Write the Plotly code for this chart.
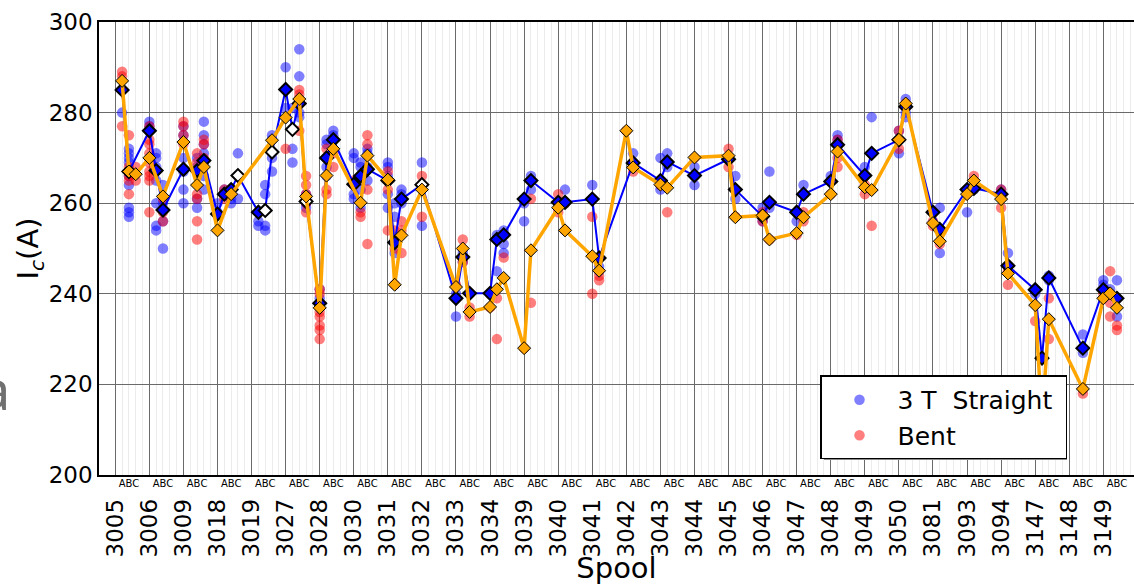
import plotly.graph_objects as go

spools = ["3005", "3006", "3009", "3018", "3019", "3027", "3028", "3030", "3031", "3032",
          "3033", "3034", "3039", "3040", "3041", "3042", "3043", "3044", "3045", "3046",
          "3047", "3048", "3049", "3050", "3081", "3093", "3094", "3147", "3148", "3149"]
seg_labels = ["A", "B", "C"]

# 3 T straight: mean values (spool, segment index, Ic)
straight_spool = ["3005", "3005", "3006", "3006", "3006", "3009", "3009", "3009", "3018", "3018",
                  "3018", "3018", "3019", "3019", "3019", "3027", "3027", "3027", "3027", "3028",
                  "3028", "3028", "3030", "3030", "3030", "3031", "3031", "3031", "3032", "3033",
                  "3033", "3033", "3034", "3034", "3034", "3039", "3039", "3040", "3040", "3041",
                  "3041", "3042", "3043", "3043", "3044", "3045", "3045", "3046", "3046", "3047",
                  "3047", "3048", "3048", "3049", "3049", "3050", "3050", "3081", "3081", "3093",
                  "3093", "3094", "3094", "3147", "3147", "3147", "3148", "3149", "3149"]
straight_seg = [1, 2, 0, 1, 2, 0, 2, 3, 0, 1,
                2, 3, 1, 2, 3, 0, 1, 2, 3, 0,
                1, 2, 0, 1, 2, 0, 1, 2, 0, 0,
                1, 2, 0, 1, 2, 0, 1, 0, 1, 0,
                1, 1, 0, 1, 0, 0, 1, 0, 1, 0,
                1, 0, 1, 0, 1, 0, 1, 0, 1, 0,
                1, 0, 1, 0, 1, 2, 2, 0, 2]
straight_ic = [285.0, 267.0, 276.0, 267.2, 258.5, 267.5, 267.2, 269.4, 257.6, 262.0,
               263.0, 266.1, 258.0, 258.4, 271.3, 285.1, 276.3, 282.0, 260.4, 237.9,
               270.0, 274.0, 264.2, 266.0, 267.5, 265.0, 251.3, 260.9, 264.1, 239.0,
               248.1, 240.1, 240.1, 252.0, 253.0, 260.9, 265.0, 260.2, 260.2, 260.9,
               247.9, 268.9, 265.0, 269.1, 266.1, 269.7, 263.0, 257.1, 260.2, 258.0,
               262.0, 264.8, 272.9, 266.1, 271.0, 274.0, 281.3, 258.0, 254.2, 263.0,
               263.3, 262.0, 246.2, 240.9, 225.8, 243.5, 228.0, 240.9, 239.0]
straight_hollow = [0, 0, 0, 0, 0, 0, 0, 0, 0, 0,
                   0, 1, 0, 1, 1, 0, 1, 0, 1, 0,
                   0, 0, 0, 0, 0, 0, 0, 0, 1, 0,
                   0, 0, 0, 0, 0, 0, 0, 0, 0, 0,
                   0, 0, 0, 0, 0, 0, 0, 0, 0, 0,
                   0, 0, 0, 0, 0, 0, 0, 0, 0, 0,
                   0, 0, 0, 0, 0, 0, 0, 0, 0]

# Bent: mean values
bent_spool = ["3005", "3005", "3005", "3006", "3006", "3009", "3009", "3009", "3018", "3018",
              "3019", "3027", "3027", "3027", "3028", "3028", "3028", "3030", "3030", "3031",
              "3031", "3031", "3032", "3033", "3033", "3033", "3034", "3034", "3034", "3039",
              "3039", "3040", "3040", "3041", "3041", "3042", "3042", "3043", "3043", "3044",
              "3045", "3045", "3046", "3046", "3047", "3047", "3048", "3048", "3049", "3049",
              "3050", "3050", "3081", "3081", "3093", "3093", "3094", "3094", "3147", "3147",
              "3147", "3148", "3149", "3149", "3149"]
bent_seg = [1, 2, 3, 0, 2, 0, 2, 3, 0, 2,
            3, 0, 2, 3, 0, 1, 2, 1, 2, 0,
            1, 2, 0, 0, 1, 2, 0, 1, 2, 0,
            1, 0, 1, 0, 1, 0, 1, 0, 1, 0,
            0, 1, 0, 1, 0, 1, 0, 1, 0, 1,
            0, 1, 0, 1, 0, 1, 0, 1, 0, 1,
            2, 2, 0, 1, 2]
bent_ic = [287.0, 267.0, 266.4, 270.0, 261.5, 273.5, 264.0, 268.0, 254.0, 262.0,
           273.9, 278.9, 283.0, 261.5, 236.9, 266.1, 272.0, 260.1, 270.5, 265.2,
           242.0, 252.9, 263.0, 241.5, 250.0, 236.0, 237.1, 241.0, 243.5, 228.0,
           249.6, 259.0, 254.0, 248.3, 245.1, 276.0, 267.9, 264.1, 263.4, 270.1,
           270.5, 256.9, 257.3, 252.0, 253.4, 256.9, 262.0, 271.4, 263.5, 262.9,
           274.0, 282.0, 255.6, 251.6, 262.0, 265.0, 260.9, 244.5, 237.5, 212.0,
           234.4, 219.0, 239.0, 240.1, 236.9]

# Individual measurements (spool, segment index, list of Ic)
straight_dot_spool = ["3005", "3005", "3006", "3006", "3006", "3009", "3009", "3009", "3018", "3018",
                      "3018", "3018", "3019", "3019", "3019", "3027", "3027", "3027", "3027", "3028",
                      "3028", "3028", "3030", "3030", "3030", "3031", "3031", "3031", "3032", "3033",
                      "3033", "3033", "3034", "3034", "3034", "3039", "3039", "3040", "3040", "3041",
                      "3041", "3042", "3043", "3043", "3044", "3045", "3045", "3046", "3046", "3047",
                      "3047", "3048", "3048", "3049", "3049", "3050", "3050", "3081", "3081", "3093",
                      "3093", "3094", "3094", "3147", "3147", "3147", "3148", "3149", "3149", "3149"]
straight_dot_seg = [1, 2, 0, 1, 2, 0, 2, 3, 0, 1,
                    2, 3, 1, 2, 3, 0, 1, 2, 3, 0,
                    1, 2, 0, 1, 2, 0, 1, 2, 0, 0,
                    1, 2, 0, 1, 2, 0, 1, 0, 1, 0,
                    1, 1, 0, 1, 0, 0, 1, 0, 1, 0,
                    1, 0, 1, 0, 1, 0, 1, 0, 1, 0,
                    1, 0, 1, 0, 1, 2, 2, 0, 1, 2]
straight_dot_ic = [[280], [272, 271, 270, 269, 266, 264, 259, 258, 257], [278, 277],
                   [271, 270, 268, 265, 260, 255, 254], [264, 260, 256, 250],
                   [277, 275, 270, 267, 263, 260], [270, 268, 261, 259],
                   [278, 275, 273, 271, 269, 266, 263], [260, 258], [263, 262],
                   [261, 260], [271, 261], [256, 255], [264, 262, 255, 254], [275, 274, 270, 267],
                   [290, 281], [281, 272, 269], [294, 288, 280, 279], [262, 261, 260, 259], [241, 239],
                   [274, 273, 270, 268, 266], [276, 275, 274], [271, 270, 262, 261],
                   [269, 268, 266, 265, 263, 259], [272, 271, 268, 265], [269, 268, 266, 262, 259],
                   [260, 257, 249], [263, 262, 260], [269, 255], [235, 240],
                   [249, 247], [240], [240], [253, 252, 245], [254, 251, 249],
                   [260, 256], [266, 263], [260, 259], [263, 260], [264, 261],
                   [246, 245], [271, 269], [270, 264, 263], [271, 268], [268, 266, 264],
                   [270], [266, 261], [259, 256], [267, 260, 259], [258, 256],
                   [264, 262], [266, 265], [275, 274], [268, 266], [279, 271],
                   [276, 271], [283, 280, 279], [258], [259, 254, 249], [263, 258],
                   [264, 263], [263, 262], [249, 246], [241, 240], [226],
                   [244, 243], [231, 228, 227], [243, 242, 241], [241, 240], [243, 239, 235]]

bent_dot_spool = ["3005", "3005", "3005", "3006", "3006", "3009", "3009", "3009", "3018", "3027",
                  "3027", "3027", "3028", "3028", "3028", "3030", "3030", "3030", "3031", "3031",
                  "3031", "3032", "3033", "3033", "3033", "3034", "3034", "3034", "3039", "3039",
                  "3040", "3040", "3041", "3041", "3042", "3042", "3043", "3043", "3044", "3045",
                  "3045", "3046", "3046", "3047", "3047", "3048", "3048", "3049", "3049", "3050",
                  "3050", "3081", "3081", "3093", "3093", "3094", "3094", "3147", "3147", "3148",
                  "3149", "3149", "3149"]
bent_dot_seg = [1, 2, 3, 0, 2, 0, 2, 3, 1, 0,
                2, 3, 0, 1, 2, 0, 1, 2, 0, 1,
                2, 0, 0, 1, 2, 0, 1, 2, 0, 1,
                0, 1, 0, 1, 0, 1, 0, 1, 0, 0,
                1, 0, 1, 0, 1, 0, 1, 0, 1, 0,
                1, 0, 1, 0, 1, 0, 1, 0, 2, 2,
                0, 1, 2]
bent_dot_ic = [[289, 288, 277], [275, 268, 266, 265, 262], [268, 265],
               [277, 276, 274, 273, 271, 269, 267, 266, 265, 258], [261, 258, 256],
               [278, 277, 275, 273], [271, 269, 262, 261, 256, 252], [274, 273, 270],
               [263, 262, 261], [272],
               [285, 284, 283, 276], [266, 264, 262, 260, 258], [241, 240, 236, 235, 233, 232, 230],
               [272, 270, 263, 262], [271, 268], [265, 264], [258, 257], [275, 273, 263, 251],
               [267, 263, 254], [254, 252, 250, 242],
               [256, 254, 249], [266, 257], [242], [252, 247], [237, 235],
               [237], [239, 230], [248], [228], [261, 238],
               [262, 258], [260, 254], [257, 240], [244, 243], [276],
               [267], [264], [258], [270], [272, 268],
               [257], [258, 256], [252], [253], [258, 256],
               [262], [274, 270, 268], [264, 262], [255], [276, 272],
               [282], [256, 255], [251], [262], [266],
               [263, 259], [245, 242], [234], [239, 230], [219, 218],
               [240], [245, 238, 235], [233, 232]]

FONT = "DejaVu Sans"


def xpos(spool, seg):
    return 5 * spools.index(spool) + seg


def expand(sp_list, seg_list, val_lists):
    xs, ys = [], []
    for s, k, vals in zip(sp_list, seg_list, val_lists):
        for v in vals:
            xs.append(xpos(s, k))
            ys.append(v)
    return xs, ys


sx, sy = expand(straight_dot_spool, straight_dot_seg, straight_dot_ic)
bx, by = expand(bent_dot_spool, bent_dot_seg, bent_dot_ic)

fig = go.Figure()
fig.add_trace(go.Scatter(x=sx, y=sy, mode="markers", name="3 T\u00a0\u00a0Straight\u00a0",
                         marker=dict(color="#0000ff", size=10.5, opacity=0.5, line=dict(width=0))))
fig.add_trace(go.Scatter(x=bx, y=by, mode="markers", name="Bent",
                         marker=dict(color="#ff0000", size=10.5, opacity=0.5, line=dict(width=0))))
fig.add_trace(go.Scatter(
    x=[xpos(s, k) for s, k in zip(straight_spool, straight_seg)], y=straight_ic,
    mode="lines+markers", showlegend=False,
    line=dict(color="#0000ff", width=2),
    marker=dict(symbol="diamond", size=10,
                color=["#ffffff" if h else "#0000ff" for h in straight_hollow],
                line=dict(color="black", width=2))))
fig.add_trace(go.Scatter(
    x=[xpos(s, k) for s, k in zip(bent_spool, bent_seg)], y=bent_ic,
    mode="lines+markers", showlegend=False,
    line=dict(color="#ffa500", width=3.5),
    marker=dict(symbol="diamond", size=10, color="#ffa500",
                line=dict(color="black", width=1))))
# carrier for the A/B/C segment-label axis (no visible marks)
fig.add_trace(go.Scatter(x=[None], y=[None], xaxis="x2", yaxis="y", mode="markers",
                         showlegend=False, hoverinfo="skip"))

major_vals = [5 * i for i in range(len(spools))]
minor_vals = [5 * i + k for i in range(len(spools)) for k in (1, 2, 3, 4)]
abc_vals = [5 * i + k + 1 for i in range(len(spools)) for k in range(3)]
abc_text = [seg_labels[k] for i in range(len(spools)) for k in range(3)]
xr = [-2.39, 149.5]

fig.update_layout(
    width=1134, height=585, autosize=False,
    margin=dict(l=99, r=0, t=22, b=108),
    paper_bgcolor="white", plot_bgcolor="white",
    font=dict(family=FONT, color="black"),
    xaxis=dict(range=xr, tickmode="array", tickvals=major_vals, ticktext=spools,
               tickangle=-90, tickfont=dict(size=23, family=FONT), ticklabelstandoff=13,
               showgrid=True, gridcolor="#6a6a6a", gridwidth=1, zeroline=False,
               showline=True, linecolor="black", linewidth=1.5, mirror=True, ticks="",
               minor=dict(tickmode="array", tickvals=minor_vals, showgrid=True,
                          gridcolor="#ececec", gridwidth=1, ticks=""),
               title=dict(text="Spool", font=dict(size=29, family=FONT), standoff=7)),
    xaxis2=dict(range=xr, overlaying="x", anchor="y", side="bottom",
                tickmode="array", tickvals=abc_vals, ticktext=abc_text, tickangle=0,
                tickfont=dict(size=10, family=FONT), showgrid=False, zeroline=False,
                showline=False, ticks="", ticklabelstandoff=1),
    yaxis=dict(range=[200, 300], tick0=200, dtick=20, tickfont=dict(size=23, family=FONT),
               showgrid=True, gridcolor="#6a6a6a", gridwidth=1, zeroline=False,
               showline=True, linecolor="black", linewidth=1.5, mirror=False,
               ticks="", title=dict(text="I<sub><i>c</i></sub>(A)",
                                    font=dict(size=29, family=FONT), standoff=2)),
    legend=dict(x=(820 - 99) / 1035, y=(477 - 377) / 455, xanchor="left", yanchor="top",
                bgcolor="white", bordercolor="black", borderwidth=1.5,
                font=dict(size=25, family=FONT), itemwidth=66, tracegroupgap=2),
    annotations=[dict(text="a", xref="paper", yref="paper", x=-0.084, y=0.19,
                      xanchor="right", yanchor="middle", showarrow=False,
                      font=dict(size=54, color="#707070", family="Noto Sans"))],
    shapes=[dict(type="rect", xref="paper", yref="paper", layer="above",
                 x0=(824 - 99) / 1035, x1=(1067 - 99) / 1035,
                 y0=(477 - 462) / 455, y1=(477 - 381) / 455,
                 fillcolor="#8a8a8a", line=dict(width=0))],
)

fig.write_html("out.html")
